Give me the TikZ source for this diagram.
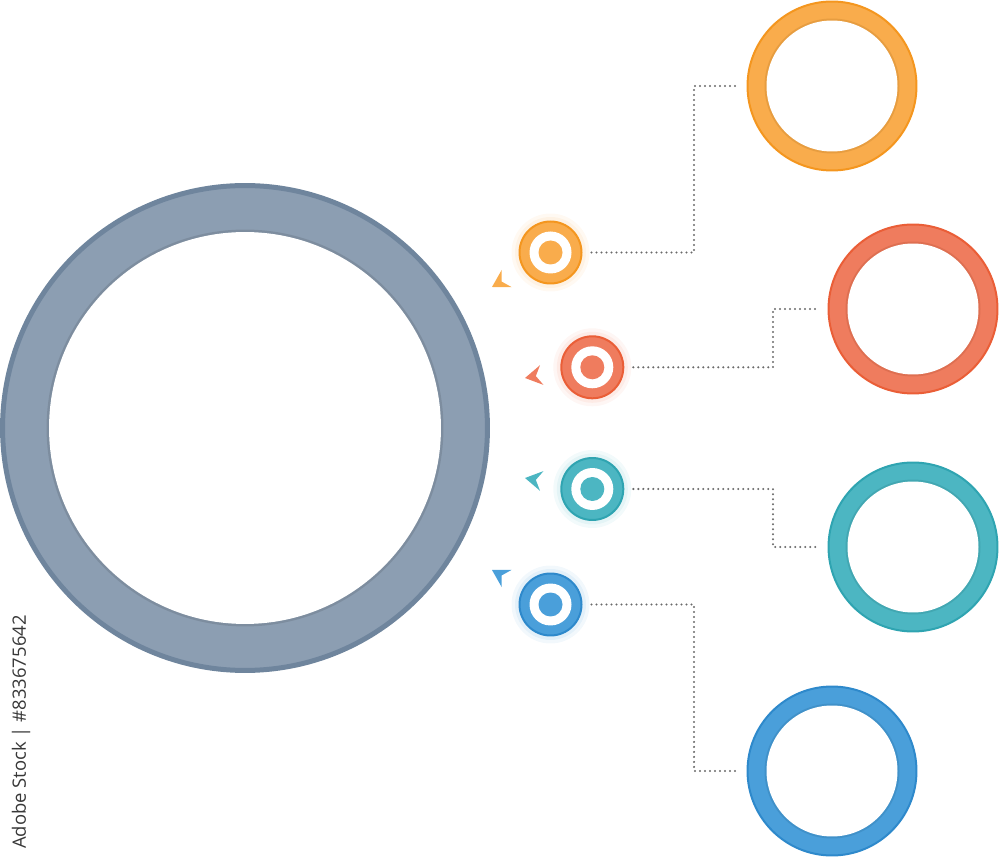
\documentclass[tikz,border=0pt]{standalone}
\usepackage{fontspec}
\setsansfont{Open Sans}
\usetikzlibrary{calc}
\definecolor{gfill}{HTML}{8C9EB2}
\definecolor{gline}{HTML}{6F859D}
\definecolor{ofill}{HTML}{F9AC4C}
\definecolor{oline}{HTML}{F4961F}
\definecolor{rfill}{HTML}{EF7C5E}
\definecolor{rline}{HTML}{EA5E37}
\definecolor{tfill}{HTML}{4CB6C2}
\definecolor{tline}{HTML}{2FA4B1}
\definecolor{bfill}{HTML}{4A9FDA}
\definecolor{bline}{HTML}{2E89CB}
\definecolor{dotgray}{HTML}{6A6A6A}
\begin{document}
\begin{tikzpicture}[x=0.02cm,y=-0.02cm,
  bigring/.style 2 args={circle, inner sep=0pt, outer sep=0.04cm, minimum size=3.38cm,
    fill=#1, draw=#2, line width=0.04cm,
    path picture={\draw[#2!70!black, opacity=0.22, line width=0.08cm]
        (path picture bounding box.center) circle[radius=1.31cm];
      \fill[white] (path picture bounding box.center) circle[radius=1.31cm];}},
  marker/.style 2 args={circle, inner sep=0pt, outer sep=0pt, minimum size=1.24cm,
    fill=#1, draw=#2, line width=0.04cm,
    path picture={\fill[white] (path picture bounding box.center) circle[radius=0.42cm];
      \fill[#1] (path picture bounding box.center) circle[radius=0.24cm];}},
  conn/.style={dotgray, line width=0.048cm, line cap=round, dash pattern=on 0pt off 0.1cm,
    shorten <=0.2cm, shorten >=0.2cm}
]
\useasboundingbox (0,0) rectangle (1000,857);

% big central ring
\node[circle, inner sep=0pt, minimum size=9.7cm, fill=gfill, draw=gline, line width=0.1cm,
  path picture={\draw[black, opacity=0.1, line width=0.1cm]
      (path picture bounding box.center) circle[radius=3.92cm];
    \fill[white] (path picture bounding box.center) circle[radius=3.92cm];}]
  (main) at (245,428) {};

% glows
\foreach \c/\x/\y in {ofill/550.5/252.5, rfill/592.3/367.3, tfill/592.3/489, bfill/550.5/604.5}{
  \fill[\c, opacity=0.07] (\x,\y) circle[radius=0.78cm];
  \fill[\c, opacity=0.09] (\x,\y) circle[radius=0.71cm];
}

% markers
\node[marker={ofill}{oline}] (s1) at (550.5,252.5) {};
\node[marker={rfill}{rline}] (s2) at (592.3,367.3) {};
\node[marker={tfill}{tline}] (s3) at (592.3,489) {};
\node[marker={bfill}{bline}] (s4) at (550.5,604.5) {};

% right rings
\node[bigring={ofill}{oline}] (r1) at (832,86) {};
\node[bigring={rfill}{rline}] (r2) at (913,309) {};
\node[bigring={tfill}{tline}] (r3) at (913,547) {};
\node[bigring={bfill}{bline}] (r4) at (832,771) {};

% arrow heads pointing at the main ring
\foreach \c/\x/\y/\a in {ofill/492/287/210, rfill/525/378/190, tfill/525/478/170, bfill/492/570/150}{
  \begin{scope}[shift={(\x,\y)}, rotate=\a]
    \fill[\c] (0,0) -- (-17,10) -- (-11,0) -- (-17,-10) -- cycle;
  \end{scope}
}

% dotted connectors
\coordinate (b1) at (694,252.5);
\coordinate (b2) at (773,367.3);
\coordinate (b3) at (773,489);
\coordinate (b4) at (694,604.5);
\draw[conn] (s1.east) -- (b1) |- (r1.west);
\draw[conn] (s2.east) -- (b2) |- (r2.west);
\draw[conn] (s3.east) -- (b3) |- (r3.west);
\draw[conn] (s4.east) -- (b4) |- (r4.west);

% stock label
\node[rotate=90, inner sep=0pt, text=black!78, font=\sffamily\fontsize{10.5pt}{12pt}\selectfont]
  (wm) at (21,732) {Adobe Stock | \#833675642};
\end{tikzpicture}
\end{document}
